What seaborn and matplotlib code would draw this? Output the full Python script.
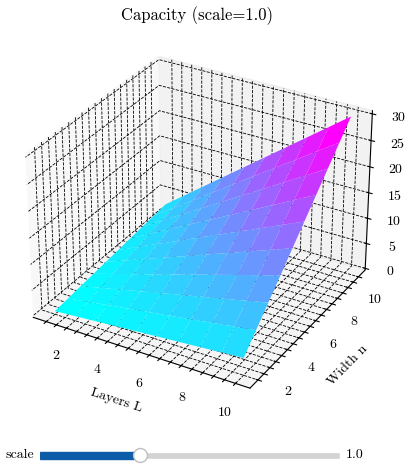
import numpy as np
import matplotlib
matplotlib.use("Agg")
import matplotlib.pyplot as plt
import seaborn as sns
from matplotlib.widgets import Slider

layers = [1, 2, 3, 4, 5, 6, 7, 8, 9, 10]
widths = [1, 2, 3, 4, 5, 6, 7, 8, 9, 10]
capacity = [
    [0.3, 0.6, 0.9, 1.2, 1.5, 1.8, 2.1, 2.4, 2.7, 3.0],
    [0.6, 1.2, 1.8, 2.4, 3.0, 3.6, 4.2, 4.8, 5.4, 6.0],
    [0.9, 1.8, 2.7, 3.6, 4.5, 5.4, 6.3, 7.2, 8.1, 9.0],
    [1.2, 2.4, 3.6, 4.8, 6.0, 7.2, 8.4, 9.6, 10.8, 12.0],
    [1.5, 3.0, 4.5, 6.0, 7.5, 9.0, 10.5, 12.0, 13.5, 15.0],
    [1.8, 3.6, 5.4, 7.2, 9.0, 10.8, 12.6, 14.4, 16.2, 18.0],
    [2.1, 4.2, 6.3, 8.4, 10.5, 12.6, 14.7, 16.8, 18.9, 21.0],
    [2.4, 4.8, 7.2, 9.6, 12.0, 14.4, 16.8, 19.2, 21.6, 24.0],
    [2.7, 5.4, 8.1, 10.8, 13.5, 16.2, 18.9, 21.6, 24.3, 27.0],
    [3.0, 6.0, 9.0, 12.0, 15.0, 18.0, 21.0, 24.0, 27.0, 30.0],
]
grid_ticks = [1, 1.5, 2, 2.5, 3, 3.5, 4, 4.5, 5, 5.5, 6, 6.5, 7, 7.5, 8, 8.5, 9, 9.5, 10]
tick_labels = ["" if t % 2 else str(int(t)) for t in grid_ticks]
z_ticks = [0, 5, 10, 15, 20, 25, 30]

sns.set_style("white", {"text.color": "k", "axes.labelcolor": "k", "xtick.color": "k",
                        "ytick.color": "k", "axes.edgecolor": "k"})
plt.rcParams["font.family"] = ["cmr10", "DejaVu Sans"]
plt.rcParams["axes.unicode_minus"] = False
plt.rcParams["axes.formatter.use_mathtext"] = True

fig = plt.figure(figsize=(4.11, 4.67), dpi=100)
ax = fig.add_axes([4 / 411, 54.5 / 467, 386 / 411, 386 / 467], projection="3d")

L, N = np.meshgrid(layers, widths, indexing="ij")
ax.plot_surface(L, N, np.array(capacity), cmap=sns.color_palette("cool", as_cmap=True),
                rstride=1, cstride=1, linewidth=0)

ax.set_xticks(grid_ticks)
ax.set_xticklabels(tick_labels)
ax.set_yticks(grid_ticks)
ax.set_yticklabels(tick_labels)
ax.set_zticks(z_ticks)
ax.set_xlabel("Layers L")
ax.set_ylabel("Width n")
ax.set_title("Capacity (scale=1.0)", y=1.081)

for axis in (ax.xaxis, ax.yaxis, ax.zaxis):
    axis._axinfo["grid"].update(color="k", linestyle="--", linewidth=0.6)

slider_ax = fig.add_axes([40 / 411, 1 - 462 / 467, 300 / 411, 14 / 467])
scale = Slider(slider_ax, "scale", 0.5, 2.0, valinit=1.0, valfmt="%.1f", color="#0d5ca8")

fig.savefig("out.png", dpi=100)
